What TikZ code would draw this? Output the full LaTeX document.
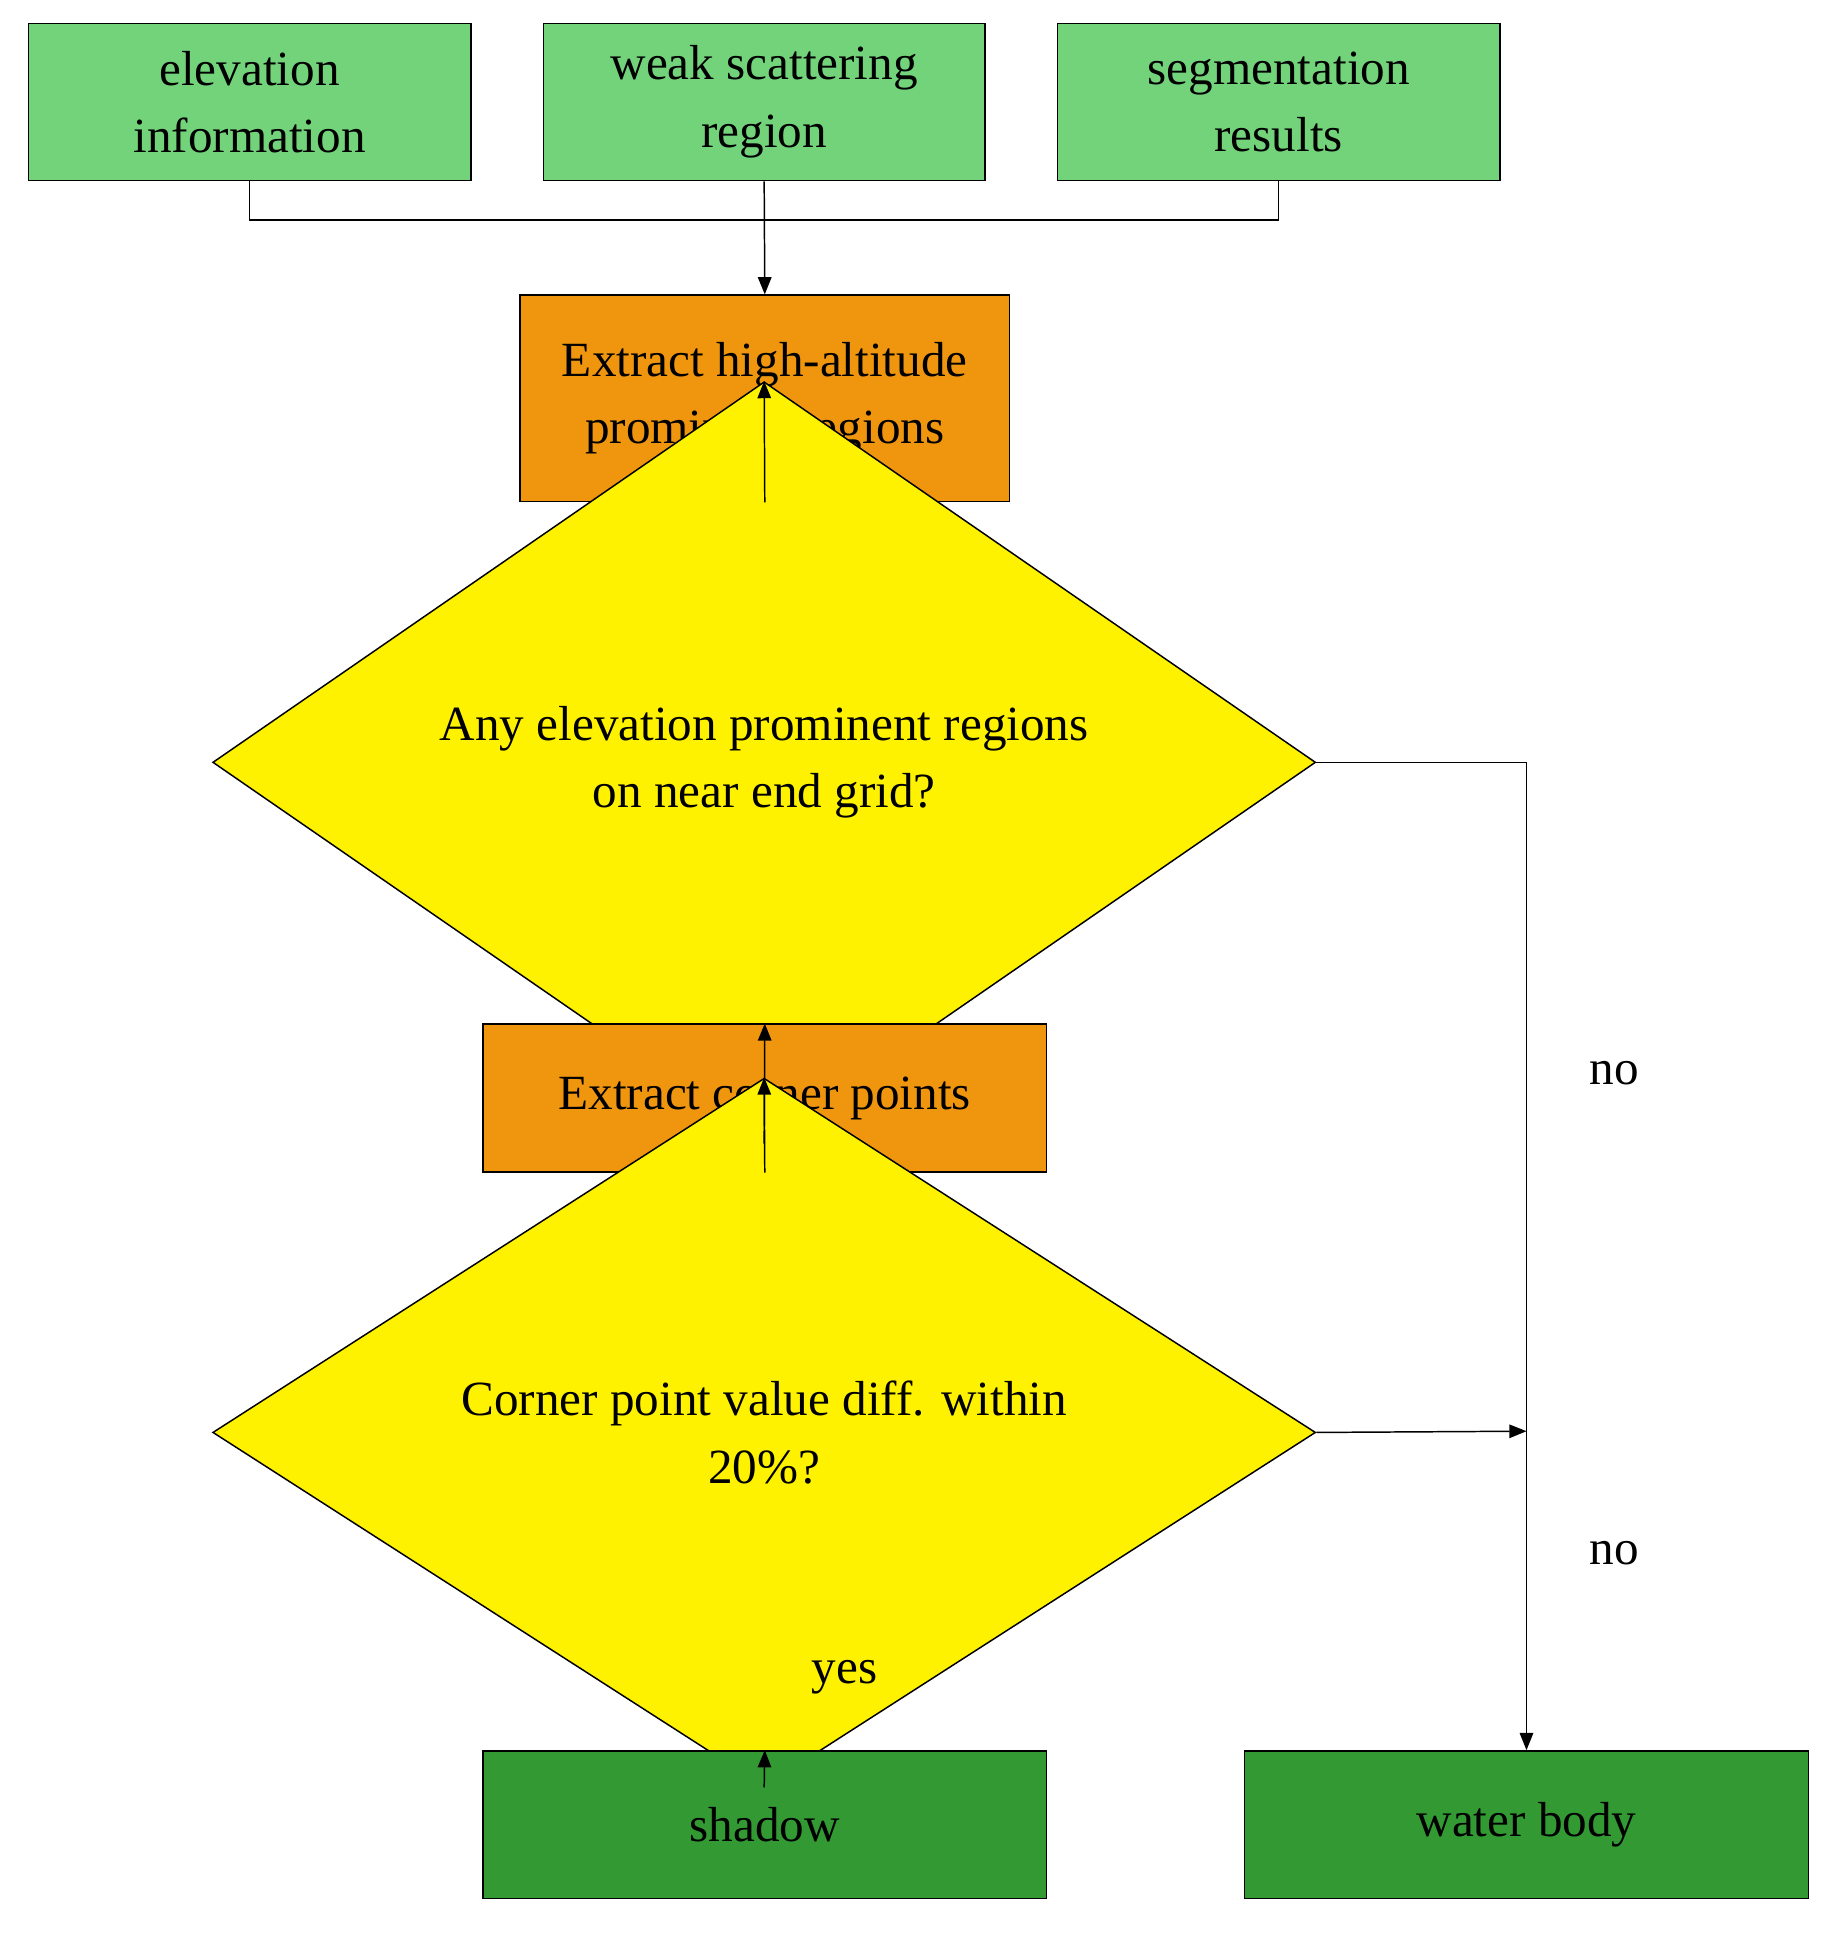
\documentclass[tikz,border=0pt]{standalone}
\usepackage{fontspec}
\setmainfont{Liberation Serif}
\usetikzlibrary{shapes.geometric,arrows.meta}
\definecolor{lg}{HTML}{72D37A}
\definecolor{org}{HTML}{F0960E}
\definecolor{dg}{HTML}{339933}
\begin{document}
\begin{tikzpicture}[x=1pt,y=-1pt,
  every node/.style={font=\fontsize{40}{55}\selectfont, align=center, inner sep=0},
  box/.style={draw, line width=1.2pt, rectangle},
  dia/.style={draw, line width=1.2pt, diamond, fill=yellow, minimum width=897, minimum height=283},
  line/.style={line width=1.2pt},
  arr/.style={line width=1.2pt, -{Triangle[length=14pt,width=11pt]}}]
\useasboundingbox (0,0) rectangle (1500,1577);
\node[box, fill=lg, minimum width=360, minimum height=128] (a) at (203,83) {elevation\\information};
\node[box, fill=lg, minimum width=359, minimum height=128] (b) at (621.5,83) {weak scattering\\region};
\node[box, fill=lg, minimum width=360, minimum height=128] (c) at (1040,83) {segmentation\\results};
\node[box, fill=org, minimum width=398, minimum height=168] (d) at (622,324) {Extract high-altitude\\prominent regions};
\node[dia] (e) at (621.5,620) {Any elevation prominent regions\\on near end grid?};
\node[box, fill=org, minimum width=458, minimum height=120] (f) at (622,893) {Extract corner points};
\node[dia] (g) at (621.5,1165) {Corner point value diff. within\\20\%?};
\node[box, fill=dg, minimum width=458, minimum height=120] (h) at (622,1484) {shadow};
\node[box, fill=dg, minimum width=459, minimum height=120] (w) at (1241.5,1484) {water body};
\coordinate (j) at (621.5,179);
\coordinate (r1) at (1241.5,620);
\coordinate (r2) at (1241.5,1164);
\draw[line] (a.south) |- (j) -| (c.south);
\draw[arr] (b.south) -- (d.north);
\draw[arr] (d.south) -- (e.north);
\draw[arr] (e.south) -- (f.north);
\draw[arr] (f.south) -- (g.north);
\draw[arr] (g.south) -- (h.north);
\draw[arr] (e.east) -- (r1) -- (w.north);
\draw[arr] (g.east) -- (r2);
\node (n1) at (1313,873) {no};
\node (n2) at (1313,1263) {no};
\node (y) at (687,1364) {yes};
\end{tikzpicture}
\end{document}
